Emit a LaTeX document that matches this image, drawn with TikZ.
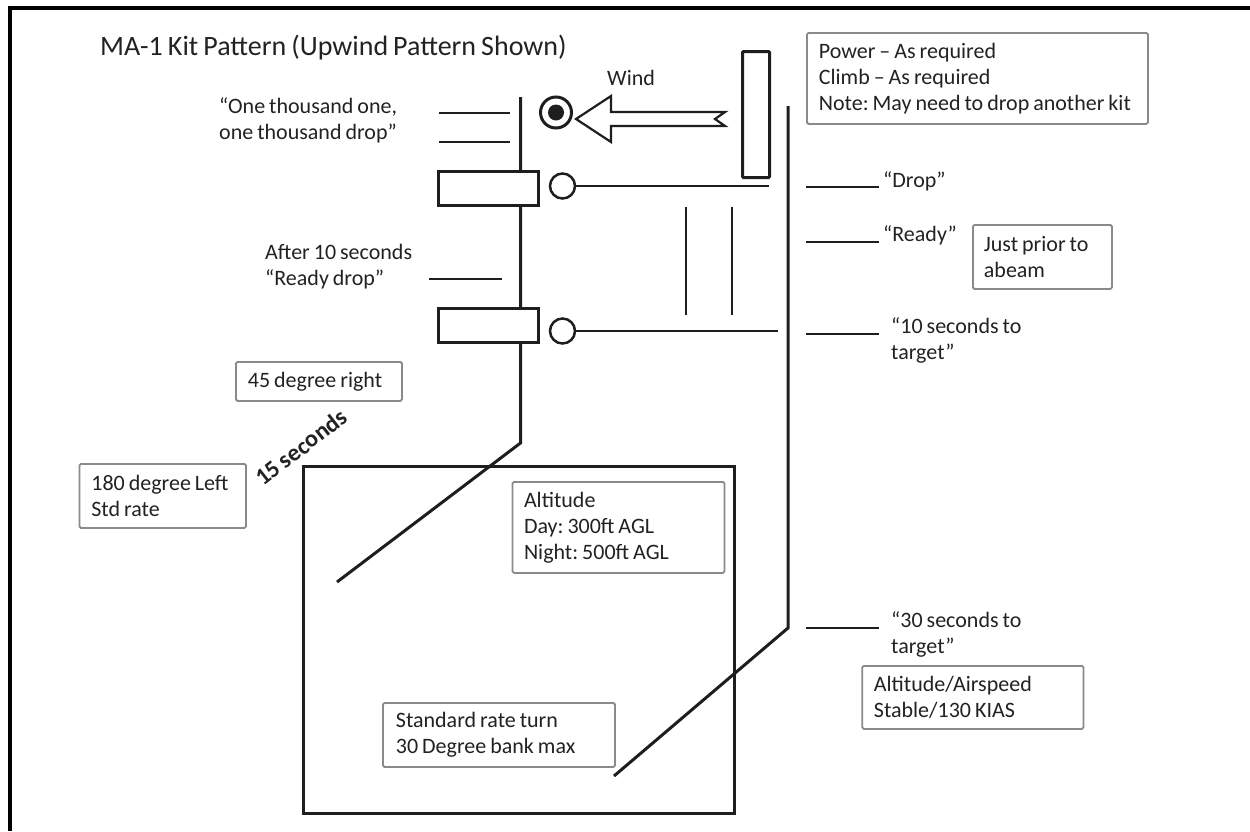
\documentclass[tikz,border=0pt]{standalone}
\usepackage{fontspec}
\setmainfont{Carlito}[WordSpace=0.8]
\usetikzlibrary{calc}
\definecolor{ink}{HTML}{1E1E1E}
\definecolor{txt}{HTML}{222222}
\definecolor{boxline}{HTML}{8A8A8A}
\tikzset{
  pathline/.style={draw=ink, line width=3pt, line join=miter},
  tick/.style={draw=ink, line width=2.5pt},
  kitbox/.style={draw=ink, fill=white, line width=3pt, minimum width=100pt, minimum height=34pt, inner sep=0pt},
  ring/.style={circle, draw=ink, fill=white, line width=2.5pt, minimum size=25pt, inner sep=0pt},
  infobox/.style={draw=boxline, line width=1.8pt, rounded corners=1.5pt, fill=white, anchor=north west, align=left, inner xsep=12pt, inner ysep=0pt, font=\fontsize{22}{26}\selectfont, text=txt, execute at begin node={\spaceskip=0pt\xspaceskip=0pt}},
  lbl/.style={anchor=base west, inner sep=0pt, font=\fontsize{22}{26}\selectfont, text=txt, align=left},
}
\begin{document}
\frenchspacing
\begin{tikzpicture}[x=1pt,y=-1pt]
\useasboundingbox (0,0) rectangle (1250,831);
% frame
\coordinate (fBL) at (10,831);
\coordinate (fTR) at (1250,8);
\draw[black, line width=4pt] (fBL) -- (10,6) (8,8) -- (fTR);

% title
\node[anchor=base west, inner sep=0pt, font=\fontsize{28}{32}\selectfont, text=txt] (title) at (100,55) {MA-1 Kit Pattern (Upwind Pattern Shown)};

% big square
\node[draw=ink, line width=3.5pt, anchor=north west, minimum width=431pt, minimum height=347pt, inner sep=0pt] (square) at (301.75,464.75) {};

% main pattern path (left)
\coordinate (Ltop) at (520.5,97);
\coordinate (Lbend) at (520.5,443);
\coordinate (Lend) at (337,582);
\draw[pathline] (Ltop) -- (Lbend) -- (Lend);

% right path
\coordinate (Rtop) at (788,106);
\coordinate (Rbend) at (788,628);
\coordinate (Rend) at (614,776);
\draw[pathline] (Rtop) -- (Rbend) -- (Rend);

% kit boxes and rings
\node[kitbox] (kit1) at (488.5,188.5) {};
\node[kitbox] (kit2) at (488.5,325) {};
\node[ring] (c1) at (562.5,186) {};
\node[ring] (c2) at (562.5,331) {};
\coordinate (c1end) at (769,186);
\coordinate (c2end) at (778,331);
\draw[tick] (c1.east) -- (c1end);
\draw[tick] (c2.east) -- (c2end);

% target symbol
\node[circle, draw=ink, line width=3pt, minimum size=31pt, inner sep=0pt] (target) at (556,112.5) {};
\node[circle, fill=ink, minimum size=16pt, inner sep=0pt] (bull) at (target.center) {};

% wind arrow
\draw[draw=ink, fill=white, line width=2.2pt, line join=miter]
  (576,119) -- (611,96) -- (611,112) -- (725,112) -- (715,119) -- (725,126) -- (611,126) -- (611,142) -- cycle;
\node[lbl] (wind) at (607,85) {Wind};

% tall rectangle
\node[draw=ink, line width=3pt, rounded corners=1pt, minimum width=27pt, minimum height=126pt, inner sep=0pt] (tall) at (756,114.5) {};

% two vertical lines
\coordinate (v1a) at (686,207); \coordinate (v1b) at (686,315);
\coordinate (v2a) at (732,207); \coordinate (v2b) at (732,315);
\draw[tick, line width=2.3pt] (v1a) -- (v1b) (v2a) -- (v2b);

% left ticks and labels
\coordinate (t1a) at (438.6,113); \coordinate (t1b) at (510,113);
\coordinate (t2a) at (438.6,142); \coordinate (t2b) at (510,142);
\coordinate (t3a) at (429,279); \coordinate (t3b) at (502,279);
\draw[tick] (t1a) -- (t1b) (t2a) -- (t2b) (t3a) -- (t3b);
\node[lbl] (onek) at (219,139) {“One thousand one,\\one thousand drop”};
\node[lbl] (after) at (265,285) {After 10 seconds\\“Ready drop”};

% right ticks and labels
\coordinate (r1a) at (806,187); \coordinate (r1b) at (879,187);
\coordinate (r2a) at (806,242); \coordinate (r2b) at (879,242);
\coordinate (r3a) at (806,334); \coordinate (r3b) at (879,334);
\coordinate (r4a) at (806,628); \coordinate (r4b) at (879,628);
\draw[tick] (r1a) -- (r1b) (r2a) -- (r2b) (r3a) -- (r3b) (r4a) -- (r4b);
\node[lbl] (drop) at (883,187) {“Drop”};
\node[lbl] (ready) at (883,241) {“Ready”};
\node[lbl] (ten) at (891,359) {“10 seconds to\\target”};
\node[lbl] (thirty) at (891,653) {“30 seconds to\\target”};

% info boxes
\node[infobox, text width=317pt, minimum height=91pt] (power) at (806,32) {Power – As required\\Climb – As required\\\mbox{Note: May need to drop another kit}};
\node[infobox, inner xsep=11pt, text width=117pt, minimum height=64pt] (prior) at (972,224) {\mbox{Just prior to}\\abeam};
\node[infobox, text width=142pt, minimum height=39pt] (fortyfive) at (235,361) {\mbox{45 degree right}};
\node[infobox, text width=142.5pt, minimum height=64pt] (oneeighty) at (78.5,463) {\mbox{180 degree Left}\\Std rate};
\node[infobox, inner xsep=11.5pt, text width=189pt, minimum height=91pt] (alt) at (511.6,481) {Altitude\\Day: 300ft AGL\\\mbox{Night: 500ft AGL}};
\node[infobox, inner xsep=13pt, text width=206pt, minimum height=64pt] (stdrate) at (382,702) {Standard rate turn\\\mbox{30 Degree bank max}};
\node[infobox, inner xsep=11.6pt, text width=198pt, minimum height=63pt] (airspeed) at (861.4,665) {\mbox{Altitude/Airspeed}\\Stable/130 KIAS};

% 15 seconds
\node[rotate=38, inner sep=0pt, font=\bfseries\fontsize{24}{26}\selectfont, text=txt] (fifteen) at (301,447) {15 seconds};
\end{tikzpicture}
\end{document}
